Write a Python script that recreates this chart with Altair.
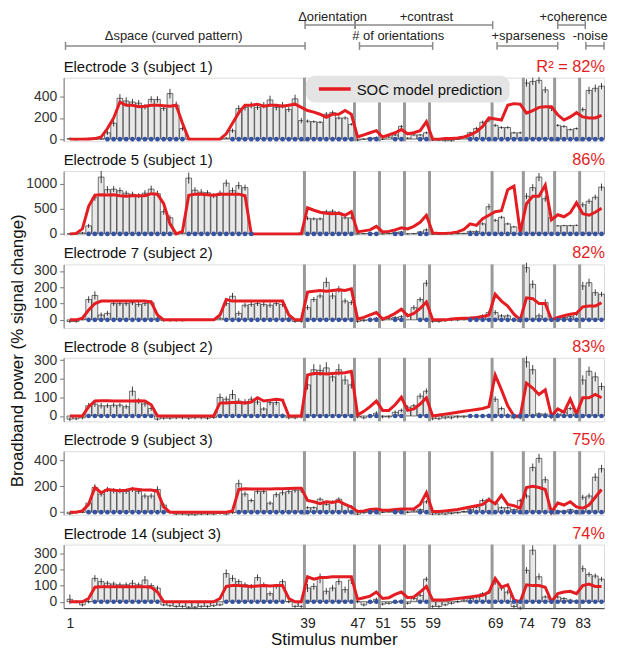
import altair as alt
import pandas as pd

# ---------------- data ----------------
stim = list(range(1, 87))
group_bounds = [38.5, 46.5, 50.5, 54.5, 58.5, 68.5, 73.5, 78.5, 82.5]
x_ticks = [1, 39, 47, 51, 55, 59, 69, 74, 79, 83]

names = ["Electrode 3 (subject 1)", "Electrode 5 (subject 1)", "Electrode 7 (subject 2)",
         "Electrode 8 (subject 2)", "Electrode 9 (subject 3)", "Electrode 14 (subject 3)"]
r2_labels = ["R\u00b2 = 82%", "86%", "82%", "83%", "75%", "74%"]
y_domains = [[-20, 580], [-15, 1250], [-50, 340], [-29, 312], [-20, 470], [-40, 355]]
y_ticks = [[0, 200, 400], [0, 500, 1000], [0, 100, 200, 300], [0, 100, 200, 300],
           [0, 200, 400], [0, 100, 200, 300]]

later_dots = [39, 40, 41, 42, 43, 44, 45, 46, 49, 50, 53, 54, 57, 58, 65, 66, 67, 68,
              69, 70, 71, 72, 73, 74, 75, 76, 77, 78, 79, 80, 81, 82, 83, 84, 85, 86]

# Electrode 3
bars1 = [5, -5, 0, 5, 0, 3,
         60, 150, 385, 360, 350, 340, 305, 375, 375, 290, 430, 320, 100,
         0, 0, -2, 0, 0, 0, 10,
         80, 290, 300, 320, 300, 320, 370, 300, 320, 280, 380, 175,
         170, 165, 160, 235, 250, 200, 200, 140,
         -10, 0, 10, 15,
         0, 20, 40, 120,
         10, 40, 40, 60,
         -10, -10, -15, -15, 0, 20, 60, 100, 160, 180,
         130, 110, 110, 60, 60,
         530, 545, 555, 465, 290,
         130, 120, 90, 100,
         280, 460, 480, 500]
err1 = [10, 8, 6, 8, 6, 8,
        20, 30, 40, 35, 30, 30, 25, 30, 30, 25, 45, 35, 20,
        8, 6, 6, 6, 6, 6, 8,
        20, 30, 30, 30, 25, 30, 40, 30, 30, 25, 40, 25,
        15, 12, 12, 20, 20, 15, 15, 12,
        10, 8, 8, 10,
        8, 10, 10, 15,
        8, 10, 10, 12,
        8, 8, 8, 8, 8, 10, 10, 15, 15, 20,
        15, 12, 12, 10, 10,
        35, 35, 30, 30, 25,
        12, 12, 10, 10,
        20, 35, 35, 30]
model1 = [0, 0, 0, 2, 5, 20,
          100, 200, 350, 320, 320, 305, 310, 320, 320, 315, 310, 320, 150,
          0, 0, 0, 0, 0, 0, 50,
          150, 250, 320, 320, 330, 310, 320, 320, 310, 320, 330, 300,
          270, 255, 235, 205, 235, 235, 270, 235,
          20, 40, 60, 80,
          20, 40, 60, 90,
          50, 60, 80, 165,
          0, 0, 5, 5, 10, 20, 40, 70, 120, 200,
          190, 180, 320, 335, 330,
          245, 270, 300, 305, 305,
          230, 180, 210, 250,
          210, 200, 200, 225]
dots1 = [7, 8, 9, 10, 11, 12, 13, 14, 15, 16, 17, 18, 19,
         27, 28, 29, 30, 31, 32, 33, 34, 35, 36, 37, 38] + later_dots

# Electrode 5
bars2 = [0, 0, 20, 160,
         720, 1130, 880, 890, 860, 810, 790, 760, 810, 890, 800, 440, 320,
         0, 20,
         1110, 870, 830, 820, 760, 810, 1010, 860, 960, 920,
         10, 0, 0, 0, 0, 0, 0, 5, 20,
         310, 300, 300, 440, 450, 420, 320, 320,
         0, 5, 10, 10,
         0, 10, 30, 40,
         0, 5, 40, 80,
         -5, -5, 0, 0, 5, 10, 50, 50, 200, 540,
         270, 330, 200, 140, 0,
         750, 920, 1130, 700, 320,
         160, 165, 165, 170,
         580, 650, 730, 930]
err2 = [10, 10, 20, 40,
        60, 120, 70, 60, 60, 50, 50, 50, 60, 70, 60, 60, 50,
        10, 20,
        110, 60, 60, 50, 50, 50, 70, 60, 70, 60,
        10, 10, 10, 10, 10, 10, 10, 10, 15,
        40, 30, 30, 40, 40, 35, 30, 30,
        10, 10, 10, 15,
        10, 10, 15, 20,
        10, 10, 20, 30,
        10, 10, 10, 10, 10, 10, 20, 20, 30, 60,
        30, 30, 25, 20, 15,
        60, 70, 80, 60, 40,
        15, 15, 15, 15,
        50, 50, 50, 70]
model2 = [0, 10, 100, 550,
          770, 780, 775, 780, 760, 750, 760, 760, 760, 800, 790, 600, 200,
          0, 50,
          770, 790, 790, 780, 770, 790, 790, 790, 790, 760,
          0, 0, 0, 0, 0, 0, 0, 0, 0,
          520, 470, 430, 410, 400, 410, 370, 440,
          40, 60, 80, 150,
          40, 50, 80, 120,
          100, 150, 230, 370,
          20, 10, 10, 20, 40, 90, 200, 170, 300, 370,
          440, 460, 880, 950, 30,
          600, 750, 750, 970, 280,
          380, 340, 420, 620,
          400, 370, 430, 510]
dots2 = [4, 5, 6, 7, 8, 9, 10, 11, 12, 13, 14, 15, 16, 17,
         20, 21, 22, 23, 24, 25, 26, 27, 28, 29, 30] + later_dots

# Electrode 7
bars3 = [-10, -10, 5,
         125, 150, 30, 40, 100, 100, 100, 105, 95, 100, 105, 10,
         -5, -5, -5, -5, 0, 0, 0, 0, 0, 10,
         100, 145, 40, 90, 95, 100, 95, 90, 100, 95, 10, -10, -10,
         75, 125, 147, 230, 147, 188, 116, 106,
         -10, -5, 0, 10,
         0, 10, 15, 20,
         30, 75, 125, 225,
         -10, -10, -5, 0, 0, 5, 10, 15, 25, 45,
         45, 25, 25, 0, -10,
         320, 218, 25, 106, 0,
         10, 15, 20, 35,
         208, 228, 167, 157]
err3 = [10, 8, 8,
        20, 25, 15, 15, 15, 15, 15, 15, 15, 15, 15, 8,
        6, 6, 6, 6, 6, 6, 6, 6, 6, 8,
        15, 20, 15, 15, 15, 15, 15, 15, 15, 15, 8, 8, 8,
        15, 15, 15, 30, 20, 20, 15, 15,
        8, 8, 8, 8,
        8, 8, 8, 10,
        10, 15, 15, 20,
        8, 8, 8, 8, 8, 8, 8, 8, 10, 12,
        15, 10, 10, 8, 8,
        30, 25, 15, 20, 8,
        8, 8, 8, 10,
        25, 25, 20, 15]
model3 = [0, 0, 10,
          60, 100, 115, 115, 115, 115, 115, 115, 115, 115, 110, 30,
          0, 0, 0, 0, 0, 0, 0, 0, 0, 30,
          125, 115, 115, 115, 115, 115, 115, 115, 115, 115, 30, 0, 0,
          170, 175, 180, 175, 180, 185, 180, 190,
          5, 15, 30, 45,
          5, 20, 40, 65,
          25, 40, 70, 110,
          0, 0, 0, 5, 8, 10, 12, 15, 20, 30,
          157, 115, 85, 35, 0,
          135, 130, 100, 100, 0,
          15, 25, 35, 40,
          80, 85, 85, 105]
dots3 = [4, 5, 6, 7, 8, 9, 10, 11, 12, 13, 14, 15,
         26, 27, 28, 29, 30, 31, 32, 33, 34, 35, 36] + later_dots

# Electrode 8
bars4 = [-17, -15, -10,
         55, 64, 55, 55, 58, 58, 50, 133, 80, 65, 40,
         -17, -12, -12, -10, -10, -12, -10, -10, -12, -8,
         100, 90, 115, 80, 75, 90, 75, 38, 72, 72, 5,
         -10, -10, -5,
         167, 248, 245, 258, 210, 248, 193, 167,
         -5, -10, 0, 15,
         -5, -5, 20, 30,
         47, 55, 107, 133,
         -15, -15, -10, -10, -5, -5, 0, 0, 0, 5,
         90, 40, 5, -10, -10,
         290, 248, 12, 10, -5,
         10, 20, 40, 10,
         193, 240, 210, 158]
err4 = [10, 8, 8,
        15, 15, 15, 12, 12, 12, 12, 25, 15, 15, 12,
        8, 8, 8, 8, 8, 8, 8, 8, 8, 8,
        20, 15, 25, 15, 15, 15, 15, 10, 15, 15, 8,
        8, 8, 8,
        25, 30, 30, 30, 25, 30, 25, 20,
        8, 8, 8, 10,
        8, 8, 10, 10,
        10, 10, 15, 15,
        8, 8, 8, 8, 8, 8, 8, 8, 8, 8,
        15, 10, 8, 8, 8,
        30, 25, 8, 8, 8,
        8, 8, 10, 8,
        25, 25, 25, 20]
model4 = [0, 0, 0,
          50, 80, 82, 82, 80, 80, 80, 80, 82, 80, 60,
          0, 0, 0, 0, 0, 0, 0, 0, 0, 0,
          70, 70, 72, 72, 70, 75, 98, 80, 85, 90, 85,
          0, 0, 0,
          220, 228, 228, 225, 228, 230, 232, 240,
          5, 25, 50, 80,
          30, 30, 60, 100,
          30, 38, 64, 98,
          0, 5, 10, 15, 20, 25, 30, 35, 40, 50,
          220, 140, 55, 0, 0,
          176, 150, 115, 140, 0,
          38, 20, 90, 12,
          98, 98, 115, 98]
dots4 = [4, 5, 6, 7, 8, 9, 10, 11, 12, 13, 14,
         25, 26, 27, 28, 29, 30, 31, 32, 33, 34, 35] + later_dots

# Electrode 9
bars5 = [-12, 0, 0,
         70, 190, 140, 175, 165, 165, 160, 175, 160, 125, 125, 175, 55,
         0, -15, -15, -20, -20, -15, -15, -15, -10, -15, -5,
         220, 140, 90, 160, 160, 70, 135, 150, 160, 170, 170,
         35, 35, 100, 60, 80, 100, 60, 45,
         -15, -5, 5, 10,
         0, 5, 10, 15,
         0, 10, 20, 80,
         -15, -15, -15, -10, -5, 5, 20, 40, 90, 100,
         65, 35, 35, 20, 90,
         125, 345, 415, 250, 0,
         10, 10, 20, 10,
         115, 125, 270, 335]
err5 = [10, 8, 8,
        15, 25, 20, 20, 20, 20, 20, 20, 20, 20, 20, 25, 15,
        8, 8, 8, 8, 8, 8, 8, 8, 8, 8, 8,
        30, 20, 15, 20, 20, 15, 20, 20, 20, 20, 20,
        10, 10, 15, 10, 12, 15, 10, 10,
        8, 8, 8, 8,
        8, 8, 8, 8,
        8, 8, 10, 15,
        8, 8, 8, 8, 8, 8, 10, 10, 15, 15,
        10, 10, 10, 8, 15,
        20, 30, 35, 25, 8,
        8, 8, 8, 8,
        20, 20, 30, 30]
model5 = [0, 0, 10,
          60, 190, 150, 175, 170, 165, 170, 180, 175, 170, 170, 160, 40,
          0, 0, 0, 0, 0, 0, 0, 0, 0, 0, 10,
          175, 180, 178, 178, 178, 178, 180, 180, 182, 185, 185,
          90, 80, 65, 80, 75, 85, 60, 40,
          5, 10, 20, 25,
          15, 15, 20, 25,
          25, 25, 60, 150,
          5, 5, 10, 15, 20, 30, 40, 50, 60, 95,
          65, 130, 60, 50, 30,
          190, 200, 190, 175, 0,
          70, 55, 80, 40,
          30, 55, 115, 175]
dots5 = [4, 5, 6, 7, 8, 9, 10, 11, 12, 13, 14, 15, 16,
         28, 29, 30, 31, 32, 33, 34, 35, 36, 37, 38] + later_dots

# Electrode 14
bars6 = [15, 0, -20, 0,
         145, 125, 115, 110, 105, 105, 115, 105, 135, 100, 85,
         -20, -25, -30, -30, -35, -35, -30, -30, -25, -20,
         175, 145, 125, 105, 95, 150, 105, 50, 95, 125,
         0, -30, -30,
         85, 95, 145, 65, 85, 125, 75, 135,
         0, -20, -5, 15,
         -15, -10, -5, 5,
         -10, 20, 40, 140,
         -30, -30, -20, -10, 0, 10, 20, 30, 50, 60,
         125, 85, 60, -30, -40,
         195, 320, 155, 30, 0,
         30, 20, 10, 5,
         205, 170, 160, 140]
err6 = [30, 10, 10, 10,
        20, 20, 15, 15, 15, 15, 20, 15, 25, 15, 15,
        8, 8, 8, 8, 8, 8, 8, 8, 8, 8,
        25, 20, 15, 15, 15, 20, 15, 15, 15, 15,
        10, 8, 8,
        25, 20, 30, 20, 20, 20, 20, 25,
        10, 10, 10, 10,
        8, 8, 8, 8,
        8, 10, 10, 15,
        8, 8, 8, 8, 8, 8, 10, 10, 10, 12,
        20, 15, 15, 10, 10,
        20, 30, 20, 10, 8,
        10, 8, 8, 8,
        20, 15, 15, 15]
model6 = [0, 0, 0, 20,
          90, 93, 93, 93, 93, 93, 93, 93, 93, 90, 60,
          0, 0, 0, 0, 0, 0, 0, 0, 0, 20,
          95, 100, 100, 98, 95, 98, 100, 98, 100, 100,
          20, 0, 0,
          155, 140, 150, 150, 155, 155, 155, 155,
          15, 25, 35, 60,
          20, 25, 45, 60,
          25, 30, 60, 95,
          10, 10, 10, 15, 20, 25, 30, 35, 40, 60,
          145, 90, 105, 10, 0,
          105, 100, 100, 90, 0,
          50, 60, 65, 50,
          100, 110, 95, 95]
dots6 = [5, 6, 7, 8, 9, 10, 11, 12, 13, 14, 15,
         26, 27, 28, 29, 30, 31, 32, 33, 34, 35] + later_dots

all_bars = [bars1, bars2, bars3, bars4, bars5, bars6]
all_err = [err1, err2, err3, err4, err5, err6]
all_model = [model1, model2, model3, model4, model5, model6]
all_dots = [dots1, dots2, dots3, dots4, dots5, dots6]

# top brackets (stimulus units)
row1_labels = ["\u0394orientation", "+contrast", "+coherence"]
row1_start = [38.6, 46.6, 79.0]
row1_end = [46.6, 68.6, 83.4]
row1_center = [43.0, 58.0, 81.5]
row2_labels = ["\u0394space (curved pattern)", "# of orientations", "+sparseness", "-noise"]
row2_start = [0.3, 47.3, 69.3, 83.5]
row2_end = [38.6, 59.0, 79.0, 86.4]
row2_center = [17.6, 53.5, 74.3, 84.2]

legend_label = "SOC model prediction"
y_title = "Broadband power (% signal change)"

# ---------------- styling ----------------
W, H = 544, 64
XDOM = [0, 86.4]
RED = "#e41d22"
BLUE = "#3452a4"
FONT = "Liberation Sans"


def make_panel(k):
    df = pd.DataFrame({"s": stim, "v": all_bars[k], "e": all_err[k], "m": all_model[k]})
    xs = alt.Scale(domain=XDOM, nice=False, zero=False)
    if k == 5:
        xaxis = alt.Axis(values=x_ticks, title="Stimulus number", titleFontSize=17,
                         titleFontWeight="normal", titleColor="#111", labelFontSize=14,
                         labelColor="#222", tickSize=0, labelPadding=8, titlePadding=2,
                         domainColor="#333", domainWidth=1, labelFlush=False, grid=False)
    else:
        xaxis = None
    ys = alt.Scale(domain=y_domains[k], nice=False, zero=False)
    yaxis = alt.Axis(values=y_ticks[k], title=None, format="d", tickSize=4, labelPadding=3,
                     labelFontSize=14, labelColor="#333", domainColor="#777",
                     tickColor="#777", grid=False)

    def X(f):
        return alt.X(f, type="quantitative", scale=xs, axis=xaxis)

    def Y(f):
        return alt.Y(f, type="quantitative", scale=ys, axis=yaxis)

    base = alt.Chart(df)
    bar_layer = base.transform_calculate(
        x0="datum.s - 0.46", x1="datum.s + 0.46", z="0"
    ).mark_bar(fill="#e8e8e8", stroke="#1a1a1a", strokeWidth=0.6).encode(
        x=X("x0"), x2="x1:Q", y=Y("v"), y2="z:Q")
    err_layer = base.transform_calculate(
        lo="datum.v - datum.e", hi="datum.v + datum.e"
    ).mark_rule(color="#111", strokeWidth=0.8).encode(x=X("s"), y=Y("lo"), y2="hi:Q")
    sep_layer = alt.Chart(pd.DataFrame({"b": group_bounds})).mark_rule(
        color="#9a9a9a", strokeWidth=3).encode(x=X("b"), y=alt.value(0), y2=alt.value(H))
    line_layer = base.mark_line(color=RED, strokeWidth=3).encode(x=X("s"), y=Y("m"))
    dot_layer = alt.Chart(pd.DataFrame({"s": all_dots[k]})).transform_calculate(
        z="0").mark_circle(color=BLUE, size=22, opacity=1).encode(x=X("s"), y=Y("z"))
    title_layer = alt.Chart(pd.DataFrame({"t": [names[k]]})).mark_text(
        align="left", baseline="middle", fontSize=15, color="#111").encode(
        x=alt.value(0), y=alt.value(-11), text="t:N")
    r2_layer = alt.Chart(pd.DataFrame({"t": [r2_labels[k]]})).mark_text(
        align="right", baseline="middle", fontSize=16.5, color=RED).encode(
        x=alt.value(W + 1), y=alt.value(-11), text="t:N")

    layers = [bar_layer, err_layer, sep_layer, line_layer, dot_layer, title_layer, r2_layer]

    if k == 0:
        for labels, st, en, cen, yl, yt in [
                (row1_labels, row1_start, row1_end, row1_center, -53, -61),
                (row2_labels, row2_start, row2_end, row2_center, -32, -42)]:
            bdf = pd.DataFrame({"a": st, "b": en, "c": cen, "label": labels})
            bc = alt.Chart(bdf)
            layers.append(bc.mark_rule(color="#8a8a8a", strokeWidth=1.5).encode(
                x=X("a"), x2="b:Q", y=alt.value(yl)))
            layers.append(bc.mark_rule(color="#8a8a8a", strokeWidth=1.5).encode(
                x=X("a"), y=alt.value(yl - 4), y2=alt.value(yl + 4)))
            layers.append(bc.mark_rule(color="#8a8a8a", strokeWidth=1.5).encode(
                x=X("b"), y=alt.value(yl - 4), y2=alt.value(yl + 4)))
            layers.append(bc.mark_text(fontSize=13, color="#222", baseline="middle").encode(
                x=X("c"), y=alt.value(yt), text="label:N"))
        # legend box (decoration)
        ldf = pd.DataFrame({"t": [legend_label]})
        lc = alt.Chart(ldf)
        layers.append(lc.mark_rect(fill="#e4e4e4", cornerRadius=9).encode(
            x=alt.value(244), x2=alt.value(449), y=alt.value(-2), y2=alt.value(25)))
        layers.append(lc.mark_rule(color=RED, strokeWidth=3.5).encode(
            x=alt.value(257), x2=alt.value(289), y=alt.value(11.5)))
        layers.append(lc.mark_text(align="left", baseline="middle", fontSize=15,
                                   color="#111").encode(
            x=alt.value(295), y=alt.value(12), text="t:N"))
    if k == 3:
        layers.append(alt.Chart(pd.DataFrame({"t": [y_title]})).mark_text(
            angle=270, fontSize=17, color="#111", baseline="middle", align="center").encode(
            x=alt.value(-46), y=alt.value(-7), text="t:N"))

    return alt.layer(*layers).properties(width=W, height=H)


panels = [make_panel(k) for k in range(6)]

chart = alt.vconcat(*panels, spacing=30, bounds="flush").resolve_scale(
    x="independent", y="independent"
).properties(padding=0).configure_view(stroke=None).configure(font=FONT)

chart.save("out.html", embed_options={"renderer": "svg", "actions": False})
